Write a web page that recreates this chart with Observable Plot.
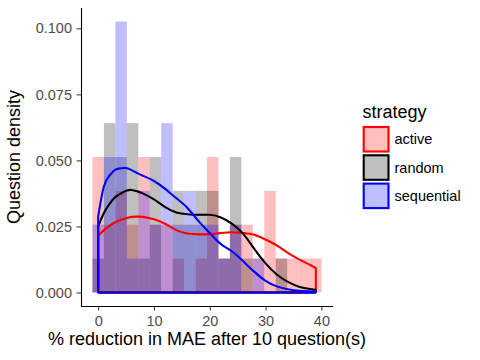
<!DOCTYPE html>
<html><head><meta charset="utf-8">
<script src="https://cdn.jsdelivr.net/npm/d3@7"></script>
<script src="https://cdn.jsdelivr.net/npm/@observablehq/plot@0.6"></script>
<style>body{margin:0;background:#fff}</style>
</head><body><div id="chart"></div>
<script>
// ---- data ----
const strategies = ["active", "random", "sequential"];
const colors = ["#FF0000", "#000000", "#0000FF"];
const binCenters = [0, 2.05, 4.11, 6.16, 8.21, 10.26, 12.32, 14.37, 16.42, 18.47,
                    20.53, 22.58, 24.63, 26.68, 28.74, 30.79, 32.84, 34.89, 36.95, 39];
const binWidth = 2.0526;
const nPerGroup = 38;
const activeCounts     = [4,2,3,2,4,2,2,1,0,1,4,1,2,2,1,3,1,1,1,1];
const randomCounts     = [1,5,4,5,1,4,0,3,2,3,3,1,4,1,0,0,1,0,0,0];
const sequentialCounts = [2,4,8,1,3,2,5,2,3,2,2,1,2,0,1,0,0,0,0,0];
const densX = [0,1,2,3,4,5,6,7,8,10,12,14,16,18,20,22,24,26,28,30,32,34,36,38,39];
const activeDensity     = [0.0215,0.0235,0.0252,0.0265,0.0274,0.0281,0.0286,0.0287,0.0286,0.0277,0.0260,0.0236,0.0223,0.0220,0.0221,0.0225,0.0228,0.0225,0.0218,0.0200,0.0178,0.0150,0.0125,0.0104,0.0092];
const randomDensity     = [0.0249,0.0300,0.0334,0.0360,0.0374,0.0385,0.0388,0.0383,0.0375,0.0352,0.0323,0.0303,0.0296,0.0294,0.0294,0.0284,0.0260,0.0222,0.0164,0.0110,0.0068,0.0040,0.0022,0.0013,0.0010];
const sequentialDensity = [0.0287,0.0400,0.0442,0.0464,0.0470,0.0471,0.0463,0.0452,0.0442,0.0422,0.0392,0.0357,0.0320,0.0270,0.0225,0.0183,0.0155,0.0118,0.0078,0.0044,0.0023,0.0012,0.0006,0.0004,0.0003];
const xTicks = [0, 10, 20, 30, 40];
const yTicks = [0, 0.025, 0.05, 0.075, 0.1];
const xDomain = [-3.08, 42.08];
const yDomain = [-0.00513, 0.1077];

const counts = [activeCounts, randomCounts, sequentialCounts];
const densities = [activeDensity, randomDensity, sequentialDensity];

const bars = [];
strategies.forEach((s, k) => counts[k].forEach((c, i) => bars.push({
  strategy: s, x1: binCenters[i] - binWidth / 2, x2: binCenters[i] + binWidth / 2,
  y: c / (nPerGroup * binWidth)
})));
const dens = strategies.map((s, k) => densX.map((x, i) => ({strategy: s, x, y: densities[k][i]})));

const font = "'Liberation Sans', Arial, Helvetica, sans-serif";
const chart = Plot.plot({
  width: 480, height: 360,
  marginLeft: 81, marginRight: 147, marginTop: 8, marginBottom: 54,
  style: {fontFamily: font, fontSize: "14.5px", color: "#333333", background: "#ffffff"},
  x: {domain: xDomain, ticks: xTicks, tickSize: 4.5, tickPadding: 5, label: null},
  y: {domain: yDomain, ticks: yTicks, tickSize: 4.5, tickPadding: 5, tickFormat: d3.format(".3f"), label: null},
  color: {domain: strategies, range: colors},
  marks: [
    Plot.rect(bars, {x1: "x1", x2: "x2", y1: () => 0, y2: "y", fill: "strategy", fillOpacity: 0.25, inset: 0}),
    ...dens.map(d => Plot.areaY(d, {x: "x", y1: () => 0, y2: "y", fill: "none", stroke: "strategy",
      strokeWidth: 2.1, curve: "natural", strokeLinejoin: "miter"})),
    Plot.ruleX([xDomain[0]], {stroke: "#000", strokeWidth: 1.1}),
    Plot.ruleY([yDomain[0]], {stroke: "#000", strokeWidth: 1.1})
  ]
});
document.getElementById("chart").appendChild(chart);

const svg = d3.select(chart);
svg.selectAll("g[aria-label$='tick label'] text, g[aria-label='x-axis'] text, g[aria-label='y-axis'] text").attr("fill", "#4D4D4D");

// axis titles
svg.append("text").attr("x", 207).attr("y", 345).attr("text-anchor", "middle")
  .attr("font-family", font).attr("font-size", 18).attr("fill", "#000")
  .text("% reduction in MAE after 10 question(s)");
svg.append("text").attr("transform", "translate(20,157) rotate(-90)").attr("text-anchor", "middle")
  .attr("font-family", font).attr("font-size", 18).attr("fill", "#000")
  .text("Question density");

// legend
const lg = svg.append("g").attr("text-anchor", "start");
lg.append("text").attr("x", 362.5).attr("y", 118).attr("text-anchor", "start").attr("font-family", font).attr("font-size", 18)
  .attr("fill", "#000").text("strategy");
strategies.forEach((s, k) => {
  const y0 = 127 + k * 28.3;
  lg.append("rect").attr("x", 363.7).attr("y", y0).attr("width", 24.8).attr("height", 24.5)
    .attr("fill", colors[k]).attr("fill-opacity", 0.25).attr("stroke", colors[k]).attr("stroke-width", 2.1);
  lg.append("text").attr("x", 394.5).attr("y", y0 + 12.25).attr("dy", "0.35em").attr("text-anchor", "start")
    .attr("font-family", font).attr("font-size", 14.5).attr("fill", "#000").text(s);
});
</script>
</body></html>
